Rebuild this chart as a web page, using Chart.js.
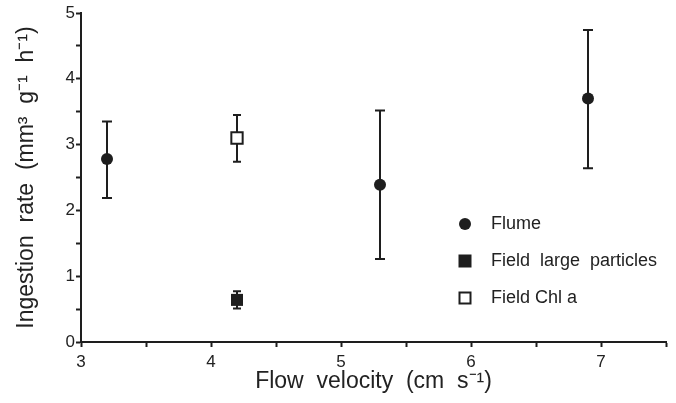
<!DOCTYPE html>
<html>
<head>
<meta charset="utf-8">
<script src="https://cdn.jsdelivr.net/npm/chart.js@4.4.1/dist/chart.umd.min.js"></script>
<style>
  html, body { margin: 0; padding: 0; background: #ffffff; }
  #wrap { width: 676px; height: 403px; }
</style>
</head>
<body>
<div id="wrap"><canvas id="c" width="676" height="403"></canvas></div>
<script>
// ---- data ----
const seriesNames = ['Flume', 'Field  large  particles', 'Field Chl a'];

const flumeVelocity = [3.2, 5.3, 6.9];
const flumeRate     = [2.78, 2.39, 3.70];
const flumeLow      = [2.19, 1.26, 2.64];
const flumeHigh     = [3.35, 3.52, 4.74];

const largeVelocity = [4.2];
const largeRate     = [0.64];
const largeLow      = [0.51];
const largeHigh     = [0.77];

const chlVelocity   = [4.2];
const chlRate       = [3.10];
const chlLow        = [2.74];
const chlHigh       = [3.45];

const xTickLabels = [3, 4, 5, 6, 7];
const yTickLabels = [0, 1, 2, 3, 4, 5];

const xTitle = 'Flow  velocity  (cm  s\u207B\u00B9)';
const yTitle = 'Ingestion  rate  (mm\u00B3  g\u207B\u00B9  h\u207B\u00B9)';

// ---- helpers ----
const INK = '#1e1e1e';
const FONT = "'Liberation Sans', Arial, Helvetica, sans-serif";

function pts(xs, ys) { return xs.map((v, i) => ({ x: v, y: ys[i] })); }

function marker(kind) {
  const c = document.createElement('canvas');
  c.width = 14; c.height = 14;
  const g = c.getContext('2d');
  g.fillStyle = INK; g.strokeStyle = INK;
  if (kind === 'circle') {
    g.beginPath(); g.arc(7, 7, 6, 0, Math.PI * 2); g.fill();
  } else if (kind === 'fill') {
    g.fillRect(0.5, 0.5, 13, 13);
  } else {
    g.lineWidth = 2; g.fillStyle = '#fff';
    g.fillRect(1, 1, 12, 12);
    g.strokeRect(1.5, 1.5, 11, 11);
  }
  return c;
}
const legendMarkers = [marker('circle'), marker('fill'), marker('open')];

const errorBars = {
  id: 'errorBars',
  beforeDatasetsDraw(chart) {
    const { ctx } = chart;
    const xs = chart.scales.x, ys = chart.scales.y;
    ctx.save();
    ctx.strokeStyle = INK;
    ctx.lineWidth = 2;
    chart.data.datasets.forEach((ds) => {
      if (!ds.errLow) return;
      ds.data.forEach((p, j) => {
        const px = xs.getPixelForValue(p.x);
        const yl = ys.getPixelForValue(ds.errLow[j]);
        const yh = ys.getPixelForValue(ds.errHigh[j]);
        const cap = ds.capHalf;
        ctx.beginPath();
        ctx.moveTo(px, yl); ctx.lineTo(px, yh);
        ctx.moveTo(px - cap, yl); ctx.lineTo(px + cap, yl);
        ctx.moveTo(px - cap, yh); ctx.lineTo(px + cap, yh);
        ctx.stroke();
      });
    });
    ctx.restore();
  }
};

const placeLegend = {
  id: 'placeLegend',
  beforeDraw(chart) {
    const lg = chart.legend;
    if (!lg) return;
    const w = lg.width, h = lg.height;
    lg.left = 429; lg.top = 196;
    lg.right = lg.left + w; lg.bottom = lg.top + h;
  }
};

new Chart(document.getElementById('c'), {
  type: 'scatter',
  data: {
    datasets: [
      {
        label: seriesNames[0],
        data: pts(flumeVelocity, flumeRate),
        errLow: flumeLow, errHigh: flumeHigh, capHalf: 5,
        pointStyle: 'circle', pointRadius: 6,
        backgroundColor: INK, borderColor: INK, borderWidth: 0
      },
      {
        label: seriesNames[1],
        data: pts(largeVelocity, largeRate),
        errLow: largeLow, errHigh: largeHigh, capHalf: 4,
        pointStyle: 'rect', pointRadius: 8.5,
        backgroundColor: INK, borderColor: INK, borderWidth: 0
      },
      {
        label: seriesNames[2],
        data: pts(chlVelocity, chlRate),
        errLow: chlLow, errHigh: chlHigh, capHalf: 4,
        pointStyle: 'rect', pointRadius: 8,
        backgroundColor: '#ffffff', borderColor: INK, borderWidth: 2
      }
    ]
  },
  options: {
    responsive: false,
    animation: false,
    layout: { padding: { top: 13, right: 10, left: 0, bottom: 0 } },
    plugins: {
      tooltip: { enabled: false },
      legend: {
        display: true,
        position: 'chartArea',
        align: 'start',
        labels: {
          usePointStyle: true,
          pointStyleWidth: 34,
          padding: 19,
          color: '#222',
          font: { family: FONT, size: 18 },
          generateLabels(chart) {
            return chart.data.datasets.map((ds, i) => ({
              text: ds.label,
              pointStyle: legendMarkers[i],
              fillStyle: INK, strokeStyle: INK, lineWidth: 0,
              fontColor: '#222',
              hidden: false, datasetIndex: i
            }));
          }
        }
      }
    },
    scales: {
      x: {
        type: 'linear',
        min: 3, max: 7.5,
        afterFit(s) { s.height = 61; },
        ticks: {
          stepSize: 0.5,
          autoSkip: false,
          maxRotation: 0,
          padding: 5,
          color: '#222',
          font: { family: FONT, size: 17 },
          callback: (v) => xTickLabels.includes(v) ? String(v) : ''
        },
        grid: { display: true, drawOnChartArea: false, drawTicks: true, tickLength: 5, tickWidth: 2, tickColor: INK },
        border: { display: true, color: INK, width: 2 },
        title: {
          display: true, text: xTitle, color: '#222',
          font: { family: FONT, size: 23 },
          padding: { top: 0, bottom: 8 }
        }
      },
      y: {
        type: 'linear',
        min: 0, max: 5,
        afterFit(s) { s.width = 81; },
        ticks: {
          stepSize: 0.5,
          autoSkip: false,
          padding: 1,
          color: '#222',
          font: { family: FONT, size: 17 },
          callback: (v) => yTickLabels.includes(v) ? String(v) : ''
        },
        grid: { display: true, drawOnChartArea: false, drawTicks: true, tickLength: 5, tickWidth: 2, tickColor: INK },
        border: { display: true, color: INK, width: 2 },
        title: {
          display: true, text: yTitle, color: '#222',
          font: { family: FONT, size: 23 },
          padding: { top: 13, bottom: 0 }
        }
      }
    }
  },
  plugins: [errorBars, placeLegend]
});
</script>
</body>
</html>
